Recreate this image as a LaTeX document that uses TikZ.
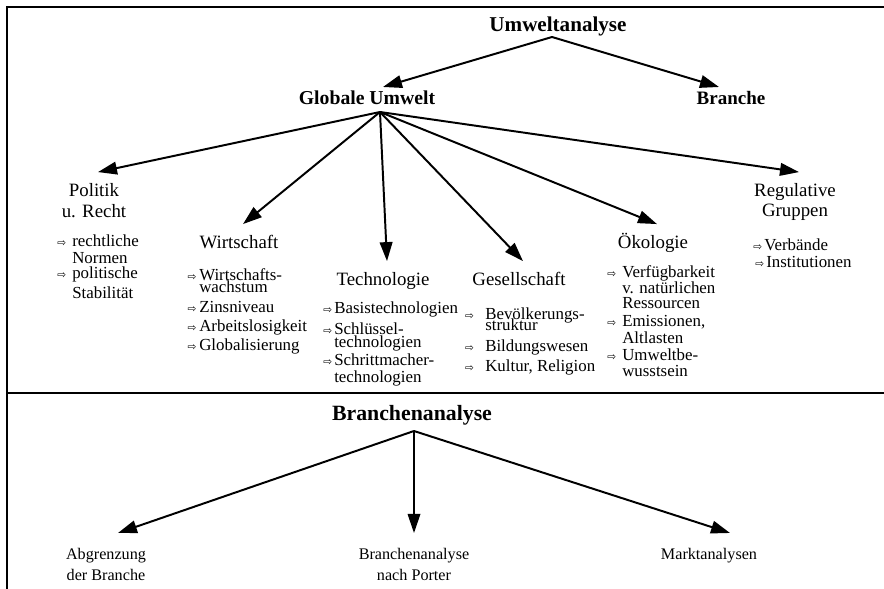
\documentclass[tikz,border=0pt]{standalone}
\usepackage{fontspec}
\setmainfont{Liberation Serif}
\newfontfamily\symfont{DejaVu Sans}
\usetikzlibrary{arrows.meta}
% hollow arrow bullet in front of a list entry, with a fixed top
\newcommand\bul[1][3pt]{\llap{{\symfont\fontsize{7.5}{8}\selectfont\char"21E8}\hspace{#1}}\rule{0pt}{11.5pt}}
\newcommand\hs{\rule{0pt}{11.5pt}}
% wrapped entry lines may sit closer than their glyphs allow
\setlength{\lineskiplimit}{-20pt}
\tikzset{
  topic/.style={anchor=base,inner sep=0pt,
    font=\bfseries\fontsize{#1}{#1}\selectfont},
  topic/.default=14,
  field/.style={anchor=north,inner xsep=0pt,inner ysep=5.5pt,yshift=17pt,
    align=center,font=\fontsize{13.4}{14.8}\selectfont},
  entry/.style={anchor=north west,inner sep=0pt,yshift=11.5pt,align=left,
    font=\fontsize{12}{11.4}\selectfont},
  leaf/.style={anchor=north,inner xsep=0pt,inner ysep=7pt,yshift=18.5pt,
    align=center,font=\fontsize{11.5}{15}\selectfont},
  link/.style={-{Triangle[length=13.5pt,width=9pt]},line width=1.4pt}
}

\begin{document}
\begin{tikzpicture}[x=0.025cm,y=-0.025cm]
  \useasboundingbox (0,0) rectangle (884,589);
  \fill[white] (0,0) rectangle (884,589);
  % frame and divider
  \draw[line width=1.4pt] (884,7) -- (7,7) -- (7,589);
  \draw[line width=1.8pt] (7,393) -- (884,393);

  % upper part
  \node[topic=15] (umw) at (558,32) {Umweltanalyse};
  \node[topic] (glob) at (367,105) {Globale Umwelt};
  \node[topic=13.5] (bra) at (731,105) {Branche};
  \draw[link] ([shift={(-6,5)}]umw.base) -- ([shift={(16,-18)}]glob.base);
  \draw[link] ([shift={(-6,5)}]umw.base) -- ([shift={(-12,-18)}]bra.base);

  \node[field] (pol) at (94,196) {\hs Politik\\u. Recht};
  \node[field] (wir) at (239,248) {\hs Wirtschaft};
  \node[field] (tech) at (383,285) {\hs Technologie};
  \node[field] (ges) at (519,285) {\hs Gesellschaft};
  \node[field] (oek) at (653,248) {\hs Ökologie};
  \node[field] (reg) at (795,196) {\hs Regulative\\[-0.6pt]Gruppen};

  \coordinate (fan) at ([shift={(13,7)}]glob.base);
  \draw[link] (fan) -- ([shift={(4,0)}]pol.north);
  \draw[link] (fan) -- ([shift={(4,0)}]wir.north);
  \draw[link] (fan) -- ([shift={(4,0)}]tech.north);
  \draw[link] (fan) -- ([shift={(4,0)}]ges.north);
  \draw[link] (fan) -- ([shift={(4,0)}]oek.north);
  \draw[link] (fan) -- ([shift={(4,0)}]reg.north);

  % entries under each field
  \node[entry] (normen) at (72,246) {\bul[4.3pt]rechtliche\\[0.7pt]Normen};
  \node[entry] (stab) at (72,278) {\bul[4.3pt]politische\\[2.8pt]Stabilität};

  \node[entry] (wachs) at (199,280) {\bul[2pt]Wirtschafts-\\[-2.9pt]wachstum};
  \node[entry] (zins) at (199,312) {\bul[2pt]Zinsniveau};
  \node[entry] (arb) at (199,331) {\bul[2pt]Arbeitslosigkeit};
  \node[entry] (welt) at (199,350) {\bul[2pt]Globalisierung};

  \node[entry] (basis) at (334,313) {\bul[1.5pt]Basistechnologien};
  \node[entry] (schl) at (334,334) {\bul[1.5pt]Schlüssel-\\[-2.2pt]technologien};
  \node[entry] (schr) at (334,365) {\bul[1.5pt]Schrittmacher-\\[0.7pt]technologien};

  \node[entry] (bev) at (485,319) {\bul[8pt]Bevölkerungs-\\[-3.6pt]struktur};
  \node[entry] (bild) at (485,351) {\bul[8pt]Bildungswesen};
  \node[entry] (kult) at (485,371) {\bul[8pt]Kultur, Religion};

  \node[entry] (verf) at (622,277) {\bul[4.3pt]Verfügbarkeit\\v. natürlichen\\[-0.7pt]Ressourcen};
  \node[entry] (emis) at (622,326) {\bul[4.3pt]Emissionen,\\[0.7pt]Altlasten};
  \node[entry] (bewu) at (622,360) {\bul[4.3pt]Umweltbe-\\wusstsein};

  \node[entry] (verb) at (764,250) {\bul[1.5pt]Verbände};
  \node[entry] (inst) at (766,267) {\bul[1.5pt]Institutionen};

  % lower part
  \node[topic=15.5] (bana) at (412,421) {Branchenanalyse};
  \node[leaf] (abg) at (106,559) {\hs Abgrenzung\\der Branche};
  \node[leaf] (port) at (414,559) {\hs Branchenanalyse\\nach Porter};
  \node[leaf] (markt) at (709,559) {\hs Marktanalysen};
  \draw[link] ([shift={(2,10)}]bana.base) -- ([shift={(12,0)}]abg.north);
  \draw[link,line width=0.9pt] ([shift={(2,10)}]bana.base) -- (port.north);
  \draw[link] ([shift={(2,10)}]bana.base) -- ([shift={(21,0)}]markt.north);
\end{tikzpicture}
\end{document}
